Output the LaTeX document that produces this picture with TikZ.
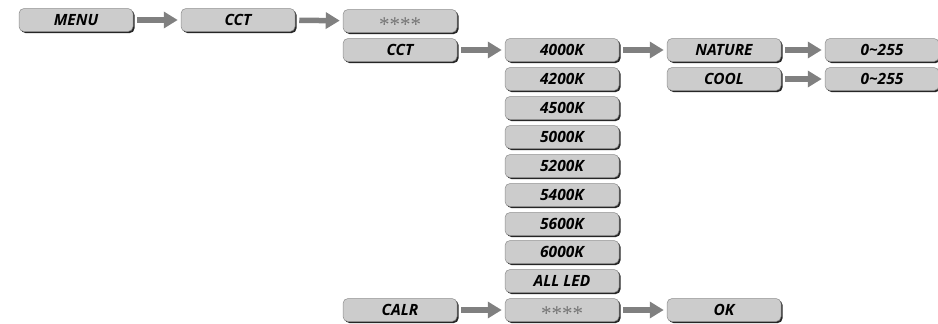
\documentclass[tikz,border=0pt]{standalone}
\usepackage{fontspec}
\setmainfont{Open Sans}
\newfontfamily\starfont{Liberation Serif}
\usetikzlibrary{arrows.meta,shadows}

\begin{document}
\begin{tikzpicture}[x=1pt,y=-1pt,
	item/.style={draw=black!45, line width=0.5pt, fill=black!20, rounded corners=5pt,
		minimum width=114pt, minimum height=23pt, inner sep=0pt,
		font=\fontsize{15.5}{17}\selectfont\bfseries\itshape,
		drop shadow={shadow xshift=1.6pt, shadow yshift=-1.6pt, fill=black!85, opacity=1}},
	stars/.style={item, font=\fontsize{21}{21}\selectfont\starfont, text=black!55},
	pile/.style={line width=5.5pt, draw=black!50, -{Triangle[length=14pt,width=16pt,fill=black!50]},
		shorten <=4pt, shorten >=3pt}]

	\useasboundingbox (0,0) rectangle (938,324);

	% Top row
	\node[item] (menu) at (76,20) {MENU};
	\node[item] (cct) at (238,20) {CCT};
	\node[stars] (pwd) at (400,21) {\raisebox{-10.5pt}[0pt][0pt]{****}};

	% CCT column
	\node[item] (cctsel) at (400,50) {CCT};
	\node[item] (k4000) at (562,50) {4000K};
	\node[item] (k4200) at (562,79) {4200K};
	\node[item] (k4500) at (562,108) {4500K};
	\node[item] (k5000) at (562,137) {5000K};
	\node[item] (k5200) at (562,166) {5200K};
	\node[item] (k5400) at (562,195) {5400K};
	\node[item] (k5600) at (562,224) {5600K};
	\node[item] (k6000) at (562,252) {6000K};
	\node[item] (allled) at (562,281) {ALL LED};

	% Nature / cool
	\node[item] (nature) at (724,50) {NATURE};
	\node[item] (cool) at (724,79) {COOL};
	\node[item] (natval) at (882,50) {0\textasciitilde 255};
	\node[item] (coolval) at (882,79) {0\textasciitilde 255};

	% Calibration row
	\node[item] (calr) at (400,310) {CALR};
	\node[stars] (calpwd) at (562,310) {\raisebox{-10.5pt}[0pt][0pt]{****}};
	\node[item] (ok) at (724,310) {OK};

	% Arrows
	\draw[pile] (menu) -- (cct);
	\draw[pile] (cct) -- (pwd);
	\draw[pile] (cctsel) -- (k4000);
	\draw[pile] (k4000) -- (nature);
	\draw[pile] (nature) -- (natval);
	\draw[pile] (cool) -- (coolval);
	\draw[pile] (calr) -- (calpwd);
	\draw[pile] (calpwd) -- (ok);

\end{tikzpicture}
\end{document}
